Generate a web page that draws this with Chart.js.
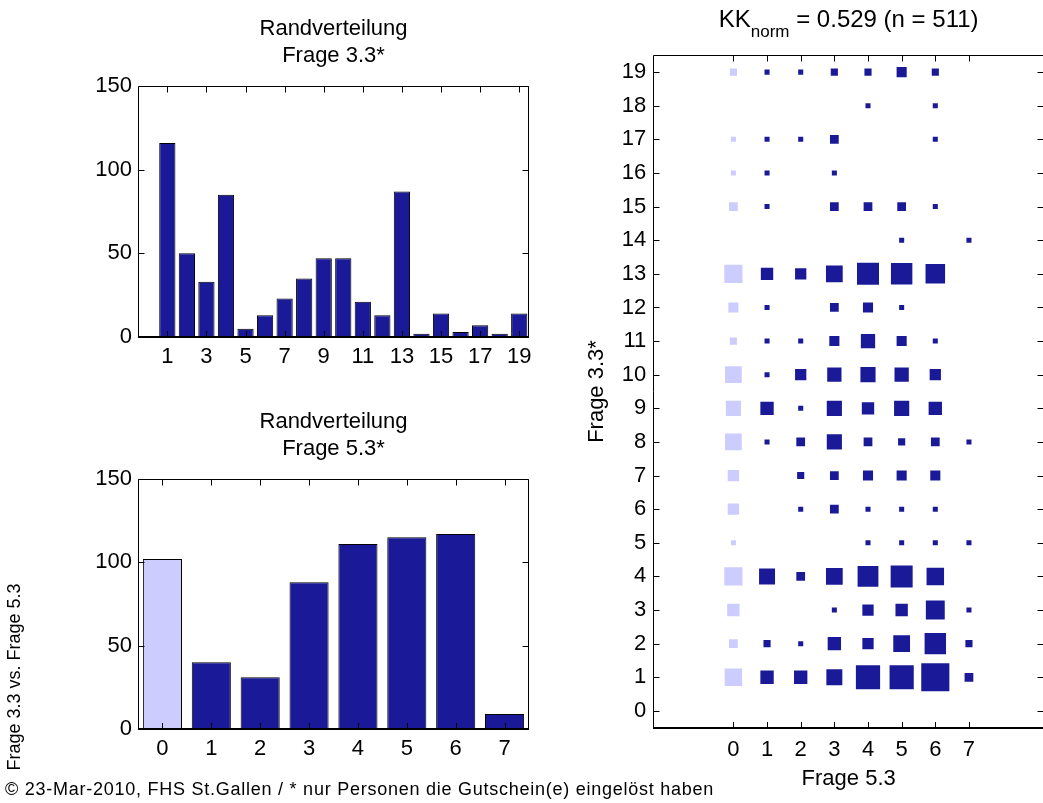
<!DOCTYPE html>
<html>
<head>
<meta charset="utf-8">
<script src="https://cdn.jsdelivr.net/npm/chart.js@4.4.1/dist/chart.umd.min.js"></script>
<style>
html,body{margin:0;padding:0;background:#fff;}
body{width:1043px;height:803px;overflow:hidden;position:relative;font-family:"Liberation Sans",Arial,sans-serif;color:#000;}
canvas{position:absolute;}
#footer{position:absolute;left:5px;top:780px;font-size:18px;line-height:18px;white-space:nowrap;letter-spacing:0.75px;}
#sidelabel{position:absolute;left:-81px;top:668px;width:190px;height:18px;font-size:18px;line-height:18px;text-align:center;white-space:nowrap;transform:rotate(-90deg);transform-origin:50% 50%;}
</style>
</head>
<body>
<canvas id="c1" width="545" height="380" style="left:0;top:0"></canvas>
<canvas id="c2" width="545" height="380" style="left:0;top:393px"></canvas>
<canvas id="c3" width="490" height="803" style="left:560px;top:0"></canvas>
<div id="sidelabel">Frage 3.3 vs. Frage 5.3</div>
<div id="footer">© 23-Mar-2010, FHS St.Gallen / * nur Personen die Gutschein(e) eingelöst haben</div>
<script>
// ---------------- data ----------------
const f33Values = [1,2,3,4,5,6,7,8,9,10,11,12,13,14,15,16,17,18,19];
const f33Counts = [116,50,33,85,5,13,23,35,47,47,21,13,87,2,14,3,7,2,14];
const f33TickLabels = [1,3,5,7,9,11,13,15,17,19];

const f53Values = [0,1,2,3,4,5,6,7];
const f53Counts = [102,40,31,88,111,115,117,9];
const f53TickLabels = [0,1,2,3,4,5,6,7];

const barYTicks = [0,50,100,150];

// cross table: one row per Frage 3.3 answer (0..19), columns = Frage 5.3 answers (0..7)
const crossRowValues = [0,1,2,3,4,5,6,7,8,9,10,11,12,13,14,15,16,17,18,19];
const crossColValues = [0,1,2,3,4,5,6,7];
const crossCounts = [
  [0,0,0,0,0,0,0,0],
  [12,7,7,10,23,23,31,3],
  [3,2,1,7,5,11,18,2],
  [6,0,0,1,5,6,14,1],
  [13,10,3,11,17,19,12,0],
  [1,0,0,0,1,1,1,1],
  [5,0,1,3,1,1,1,0],
  [5,0,2,3,4,4,4,0],
  [11,1,3,9,3,2,3,1],
  [9,7,1,9,6,9,7,0],
  [11,1,5,8,9,8,5,0],
  [2,1,1,4,8,4,1,0],
  [4,1,0,3,4,1,0,0],
  [13,6,5,11,19,18,15,0],
  [0,0,0,0,0,1,0,1],
  [3,1,0,3,3,3,1,0],
  [1,1,0,1,0,0,0,0],
  [1,1,1,3,0,0,1,0],
  [0,0,0,0,1,0,1,0],
  [2,1,1,2,2,4,2,0]
];
const kkTitleParts = ['KK', 'norm', ' = 0.529 (n = 511)'];

// ---------------- style ----------------
const FONT = "'Liberation Sans', Arial, Helvetica, sans-serif";
const DARK = '#1a1a99';
const LIGHT = '#ccccff';
const SQ = 0.15; // square side (axis units) per sqrt(count)

Chart.defaults.font.family = FONT;
Chart.defaults.color = '#000';

const boxPlugin = {
  id: 'matlabBox',
  afterDraw(chart) {
    const {ctx, chartArea: a, scales} = chart;
    const xs = scales.x, ys = scales.y;
    const L = Math.round(a.left) + 0.5, R = Math.round(a.right) - 0.5;
    const T = Math.round(a.top) + 0.5, B = Math.round(a.bottom);
    const tl = 6;
    ctx.save();
    ctx.strokeStyle = '#000';
    ctx.lineWidth = 1;
    ctx.beginPath();
    ctx.moveTo(L, B); ctx.lineTo(L, T); ctx.lineTo(R, T); ctx.lineTo(R, B);
    xs.ticks.forEach(t => {
      const px = Math.round(xs.getPixelForValue(t.value)) + 0.5;
      ctx.moveTo(px, T); ctx.lineTo(px, T + tl);
      ctx.moveTo(px, B); ctx.lineTo(px, B - tl);
    });
    ys.ticks.forEach(t => {
      const py = Math.round(ys.getPixelForValue(t.value)) + 0.5;
      ctx.moveTo(L, py); ctx.lineTo(L + tl, py);
      ctx.moveTo(R, py); ctx.lineTo(R - tl, py);
    });
    ctx.stroke();
    ctx.lineWidth = 2;
    ctx.beginPath();
    ctx.moveTo(Math.round(a.left), B); ctx.lineTo(Math.round(a.right), B);
    ctx.stroke();
    ctx.restore();
  }
};

function tickFont() { return {size: 22, family: FONT}; }

function barChart(id, values, counts, tickLabels, colors, barPct, xMin, xMax, xHeight, titleLines) {
  return new Chart(document.getElementById(id), {
    type: 'bar',
    data: {
      datasets: [{
        data: values.map((v, i) => ({x: v, y: counts[i]})),
        backgroundColor: colors,
        borderColor: '#000',
        borderWidth: 1,
        borderSkipped: false,
        categoryPercentage: 1,
        barPercentage: barPct
      }]
    },
    options: {
      responsive: false,
      animation: false,
      events: [],
      layout: {padding: {left: 0, right: 16, top: 0, bottom: 0}},
      plugins: {
        legend: {display: false},
        tooltip: {enabled: false},
        title: {
          display: true,
          fullSize: false,
          text: titleLines,
          color: '#000',
          font: {size: 22, family: FONT, weight: 'normal', lineHeight: 1.227},
          padding: {top: 15.8, bottom: 16.2}
        }
      },
      scales: {
        x: {
          type: 'linear', min: xMin, max: xMax, offset: false,
          grid: {display: false, drawTicks: false},
          border: {display: false},
          afterBuildTicks: s => { s.ticks = tickLabels.map(v => ({value: v})); },
          ticks: {font: tickFont(), color: '#000', padding: 7, maxRotation: 0, autoSkip: false},
          afterFit: s => { s.height = xHeight; }
        },
        y: {
          min: 0, max: 150,
          grid: {display: false, drawTicks: false},
          border: {display: false},
          afterBuildTicks: s => { s.ticks = barYTicks.map(v => ({value: v})); },
          ticks: {font: tickFont(), color: '#000', padding: 6},
          afterFit: s => { s.width = 138; }
        }
      }
    },
    plugins: [boxPlugin]
  });
}

barChart('c1', f33Values, f33Counts, f33TickLabels, DARK, 0.83, -0.5, 19.5, 43,
  ['Randverteilung', 'Frage 3.3*']);
barChart('c2', f53Values, f53Counts, f53TickLabels, f53Values.map(v => v === 0 ? LIGHT : DARK), 0.80, -0.5, 7.5, 44,
  ['Randverteilung', 'Frage 5.3*']);

// ---------- cross table chart ----------
const crossPoints = [];
crossCounts.forEach((row, ri) => {
  row.forEach((c, ci) => {
    if (c > 0) crossPoints.push({x: crossColValues[ci], y: crossRowValues[ri], c: c});
  });
});

const kkTitle = {
  id: 'kkTitle',
  afterDraw(chart) {
    const {ctx, chartArea: a} = chart;
    ctx.save();
    ctx.fillStyle = '#000';
    ctx.textBaseline = 'alphabetic';
    const big = '24px ' + FONT, small = '17px ' + FONT;
    ctx.font = big;
    const w1 = ctx.measureText(kkTitleParts[0]).width;
    const w3 = ctx.measureText(kkTitleParts[2]).width;
    ctx.font = small;
    const w2 = ctx.measureText(kkTitleParts[1]).width;
    let x = (a.left + a.right) / 2 - (w1 + w2 + w3) / 2;
    ctx.font = big;
    ctx.fillText(kkTitleParts[0], x, 27);
    x += w1;
    ctx.font = small;
    ctx.fillText(kkTitleParts[1], x, 37);
    x += w2;
    ctx.font = big;
    ctx.fillText(kkTitleParts[2], x, 27);
    ctx.restore();
  }
};

function squareRadius(ctx) {
  if (!ctx.raw) return 0;
  const s = ctx.chart.scales.x;
  const side = Math.abs(s.getPixelForValue(SQ * Math.sqrt(ctx.raw.c)) - s.getPixelForValue(0));
  return side / Math.SQRT2;
}

new Chart(document.getElementById('c3'), {
  type: 'scatter',
  data: {
    datasets: [{
      data: crossPoints,
      pointStyle: 'rect',
      pointBorderWidth: 0,
      borderWidth: 0,
      pointRadius: squareRadius,
      pointHoverRadius: squareRadius,
      backgroundColor: ctx => (ctx.raw && ctx.raw.x === 0) ? LIGHT : DARK,
      pointBackgroundColor: ctx => (ctx.raw && ctx.raw.x === 0) ? LIGHT : DARK
    }]
  },
  options: {
    responsive: false,
    animation: false,
    events: [],
    layout: {padding: {left: 0, right: 6, top: 55.3, bottom: 0}},
    plugins: {legend: {display: false}, tooltip: {enabled: false}},
    scales: {
      x: {
        type: 'linear', min: -2.38, max: 9.23,
        grid: {display: false, drawTicks: false},
        border: {display: false},
        afterBuildTicks: s => { s.ticks = crossColValues.map(v => ({value: v})); },
        ticks: {font: tickFont(), color: '#000', padding: 9, maxRotation: 0, autoSkip: false},
        title: {display: true, text: 'Frage 5.3', color: '#000', font: {size: 22, family: FONT}, padding: {top: 0, bottom: 10.8}},
        afterFit: s => { s.height = 75.3; }
      },
      y: {
        type: 'linear', min: -0.5, max: 19.5,
        grid: {display: false, drawTicks: false},
        border: {display: false},
        afterBuildTicks: s => { s.ticks = crossRowValues.map(v => ({value: v})); },
        ticks: {font: tickFont(), color: '#000', padding: 7, autoSkip: false},
        title: {display: true, text: 'Frage 3.3*', color: '#000', font: {size: 22, family: FONT}, padding: {top: 23.8, bottom: 0}},
        afterFit: s => { s.width = 93.3; }
      }
    }
  },
  plugins: [boxPlugin, kkTitle]
});
</script>
</body>
</html>
